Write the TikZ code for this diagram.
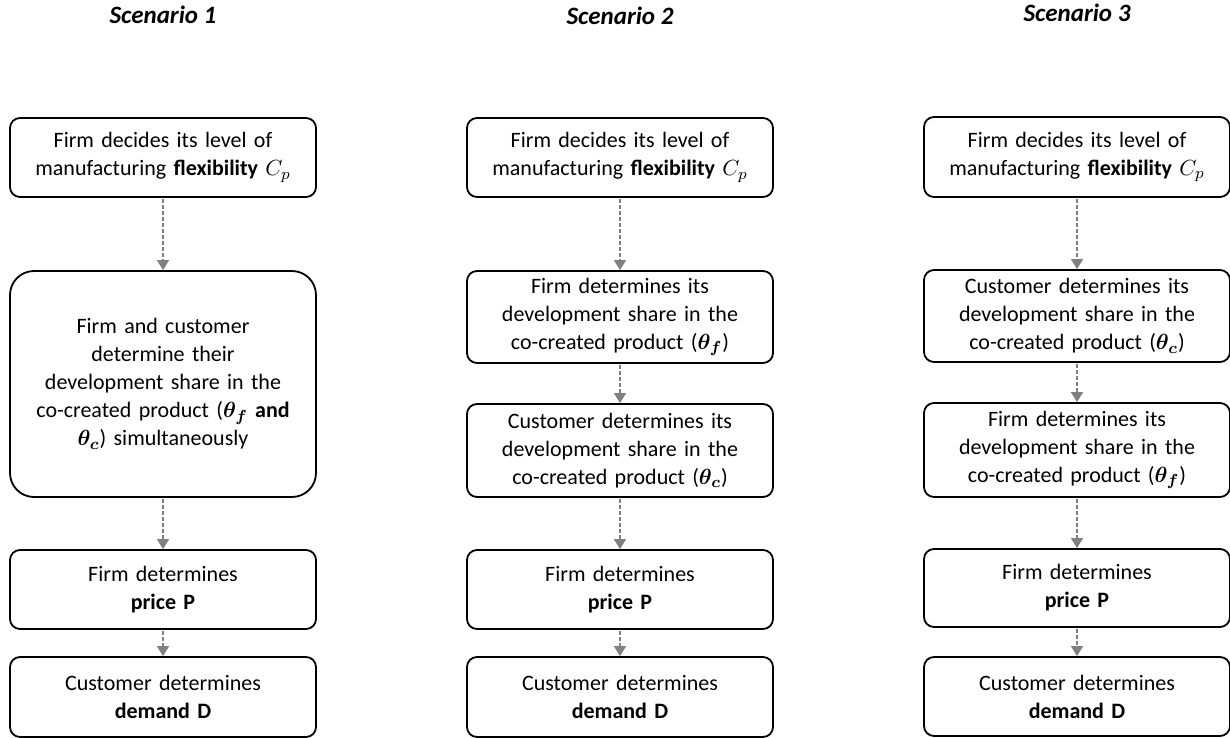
\documentclass[tikz,border=0pt]{standalone}
\usepackage{fontspec}
\usepackage{amsmath,bm}
\setmainfont{Carlito}
\usetikzlibrary{arrows.meta}
\definecolor{flowgray}{RGB}{128,128,128}
\begin{document}
\begin{tikzpicture}
	[x=0.5pt, y=-0.5pt,
	stage/.style ={draw, rounded corners=5pt, line width=0.9pt, minimum width=153pt,
		text width=145pt, align=center, inner sep=0pt, font=\fontsize{11}{14}\selectfont},
	flow/.style ={flowgray, line width=0.8pt, dash pattern=on 2pt off 1pt,
		-{Triangle[width=6pt, length=5pt]}, shorten <=0.5pt},
	title/.style ={font=\fontsize{12.5}{14}\selectfont\bfseries\itshape}]
	\useasboundingbox (0,0) rectangle (1230,738);
	% titles
	\node[title] (t1) at (163,15) {Scenario 1};
	\node[title] (t2) at (620,16) {Scenario 2};
	\node[title] (t3) at (1077,13) {Scenario 3};
	% scenario 1
	\node[stage, minimum height=39.5pt] (a1) at (163,157.5) {Firm decides its level of\\manufacturing \textbf{flexibility} $C_p$};
	\node[stage, minimum height=113pt, rounded corners=12pt] (b1) at (163,384) {Firm and customer\\determine their\\development share in the\\co-created product ($\bm{\theta_f}$ \textbf{and}\\$\bm{\theta_c}$) simultaneously};
	\node[stage, minimum height=39.5pt] (c1) at (163,589.5) {Firm determines\\\textbf{price P}};
	\node[stage, minimum height=40pt] (d1) at (163,697) {Customer determines\\\textbf{demand D}};
	% scenario 2
	\node[stage, minimum height=39.5pt] (a2) at (620,157.5) {Firm decides its level of\\manufacturing \textbf{flexibility} $C_p$};
	\node[stage, minimum height=46pt] (b2) at (620,317) {Firm determines its\\development share in the\\co-created product ($\bm{\theta_f}$)};
	\node[stage, minimum height=46.5pt] (c2) at (620,450.5) {Customer determines its\\development share in the\\co-created product ($\bm{\theta_c}$)};
	\node[stage, minimum height=39.5pt] (d2) at (620,589.5) {Firm determines\\\textbf{price P}};
	\node[stage, minimum height=40pt] (e2) at (620,697) {Customer determines\\\textbf{demand D}};
	% scenario 3
	\node[stage, minimum height=40pt] (a3) at (1077,157) {Firm decides its level of\\manufacturing \textbf{flexibility} $C_p$};
	\node[stage, minimum height=46pt] (b3) at (1077,316) {Customer determines its\\development share in the\\co-created product ($\bm{\theta_c}$)};
	\node[stage, minimum height=47pt] (c3) at (1077,450) {Firm determines its\\development share in the\\co-created product ($\bm{\theta_f}$)};
	\node[stage, minimum height=39pt] (d3) at (1077,588) {Firm determines\\\textbf{price P}};
	\node[stage, minimum height=39.5pt] (e3) at (1077,696.5) {Customer determines\\\textbf{demand D}};
	% arrows
	\path[flow] (a1) edge (b1) (b1) edge (c1) (c1) edge (d1);
	\path[flow] (a2) edge (b2) (b2) edge (c2) (c2) edge (d2) (d2) edge (e2);
	\path[flow] (a3) edge (b3) (b3) edge (c3) (c3) edge (d3) (d3) edge (e3);
\end{tikzpicture}
\end{document}
